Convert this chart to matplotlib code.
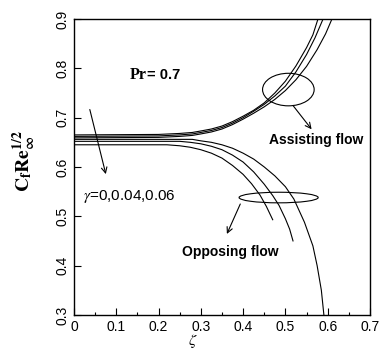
import matplotlib.pyplot as plt
from matplotlib.patches import Ellipse
from matplotlib.ticker import MultipleLocator

plt.rcParams['font.family'] = ['Liberation Sans', 'DejaVu Sans']
plt.rcParams['mathtext.fontset'] = 'stix'

# assisting flow, gamma = 0, 0.04, 0.06
xa1 = [0, 0.2, 0.25, 0.28, 0.3, 0.325, 0.35, 0.375, 0.4, 0.425, 0.45, 0.475,
       0.5, 0.525, 0.55, 0.565, 0.577]
ya1 = [0.665, 0.666, 0.668, 0.67, 0.673, 0.677, 0.683, 0.692, 0.703, 0.715,
       0.73, 0.75, 0.774, 0.805, 0.842, 0.868, 0.9]
xa2 = [0, 0.2, 0.25, 0.28, 0.3, 0.325, 0.35, 0.375, 0.4, 0.425, 0.45, 0.475,
       0.5, 0.525, 0.55, 0.57, 0.589]
ya2 = [0.662, 0.663, 0.665, 0.667, 0.67, 0.674, 0.68, 0.689, 0.7, 0.713,
       0.727, 0.744, 0.764, 0.793, 0.828, 0.862, 0.9]
xa3 = [0, 0.2, 0.25, 0.28, 0.3, 0.325, 0.35, 0.375, 0.4, 0.425, 0.45, 0.475,
       0.5, 0.525, 0.55, 0.575, 0.595, 0.61]
ya3 = [0.659, 0.66, 0.662, 0.664, 0.667, 0.671, 0.677, 0.686, 0.697, 0.709,
       0.722, 0.737, 0.755, 0.777, 0.804, 0.838, 0.87, 0.9]

# opposing flow
xo1 = [0, 0.22, 0.25, 0.275, 0.3, 0.325, 0.35, 0.375, 0.4, 0.42, 0.44, 0.455,
       0.47]
yo1 = [0.645, 0.645, 0.643, 0.64, 0.635, 0.628, 0.618, 0.603, 0.585, 0.566,
       0.543, 0.52, 0.493]
xo2 = [0, 0.25, 0.275, 0.3, 0.325, 0.35, 0.375, 0.4, 0.425, 0.45, 0.47, 0.485,
       0.5, 0.51, 0.518]
yo2 = [0.652, 0.652, 0.65, 0.647, 0.642, 0.635, 0.624, 0.61, 0.59, 0.565,
       0.542, 0.522, 0.495, 0.474, 0.45]
xo3 = [0, 0.28, 0.3, 0.325, 0.35, 0.375, 0.4, 0.425, 0.45, 0.475, 0.5, 0.52,
       0.545, 0.565, 0.575, 0.585, 0.591]
yo3 = [0.656, 0.656, 0.653, 0.65, 0.645, 0.638, 0.628, 0.616, 0.6, 0.582,
       0.56, 0.535, 0.488, 0.44, 0.4, 0.35, 0.3]

curves = [(xa1, ya1), (xa2, ya2), (xa3, ya3), (xo1, yo1), (xo2, yo2), (xo3, yo3)]

fig = plt.figure(figsize=(3.85, 3.53), dpi=100)
ax = fig.add_axes([0.192, 0.108, 0.769, 0.838])

for x, y in curves:
    ax.plot(x, y, 'k-', linewidth=0.8)

ax.add_patch(Ellipse((0.507, 0.757), 0.122, 0.066, fill=False, lw=0.8, ec='k'))
ax.add_patch(Ellipse((0.484, 0.538), 0.187, 0.0215, fill=False, lw=0.8, ec='k'))

arrow = dict(arrowstyle='->', color='k', lw=0.8)
ax.annotate('', xy=(0.566, 0.672), xytext=(0.514, 0.729), arrowprops=arrow)
ax.annotate('', xy=(0.359, 0.459), xytext=(0.396, 0.530), arrowprops=arrow)
ax.annotate('', xy=(0.077, 0.580), xytext=(0.036, 0.722), arrowprops=arrow)

t = ax.text(0.132, 0.787, 'Pr', family='Liberation Serif', fontweight='bold',
            fontsize=11.5, va='center')
ax.annotate('= 0.7', xy=(1, 0.5), xycoords=t, va='center', fontweight='bold',
            fontsize=10.5)
ax.text(0.461, 0.655, 'Assisting flow', fontweight='bold', fontsize=10, va='center')
ax.text(0.255, 0.428, 'Opposing flow', fontweight='bold', fontsize=10, va='center')
ax.text(0.021, 0.54, r'$\gamma$=0,0.04,0.06', fontsize=11, va='center')

ax.set_xlim(0, 0.7)
ax.set_ylim(0.3, 0.9)
ax.xaxis.set_minor_locator(MultipleLocator(0.05))
ax.yaxis.set_major_locator(MultipleLocator(0.1))
ax.set_xticks([0, 0.1, 0.2, 0.3, 0.4, 0.5, 0.6, 0.7])
ax.set_xticklabels(['0', '0.1', '0.2', '0.3', '0.4', '0.5', '0.6', '0.7'])
ax.tick_params(which='major', direction='in', length=5, width=0.8, labelsize=10)
ax.tick_params(which='minor', direction='in', length=2.5, width=0.8)
ax.tick_params(axis='x', pad=4)
for lab in ax.get_yticklabels():
    lab.set_rotation(90)
    lab.set_va('center')

ax.set_xlabel(r'$\zeta$', fontsize=11.5, labelpad=0)
ax.xaxis.set_label_coords(0.40, -0.058)
ax.set_ylabel(r'$\mathbf{C_f Re_\infty^{1/2}}$', fontsize=14)
ax.yaxis.set_label_coords(-0.12, 0.52)

for s in ax.spines.values():
    s.set_linewidth(1.0)

fig.savefig('out.png', dpi=100)
